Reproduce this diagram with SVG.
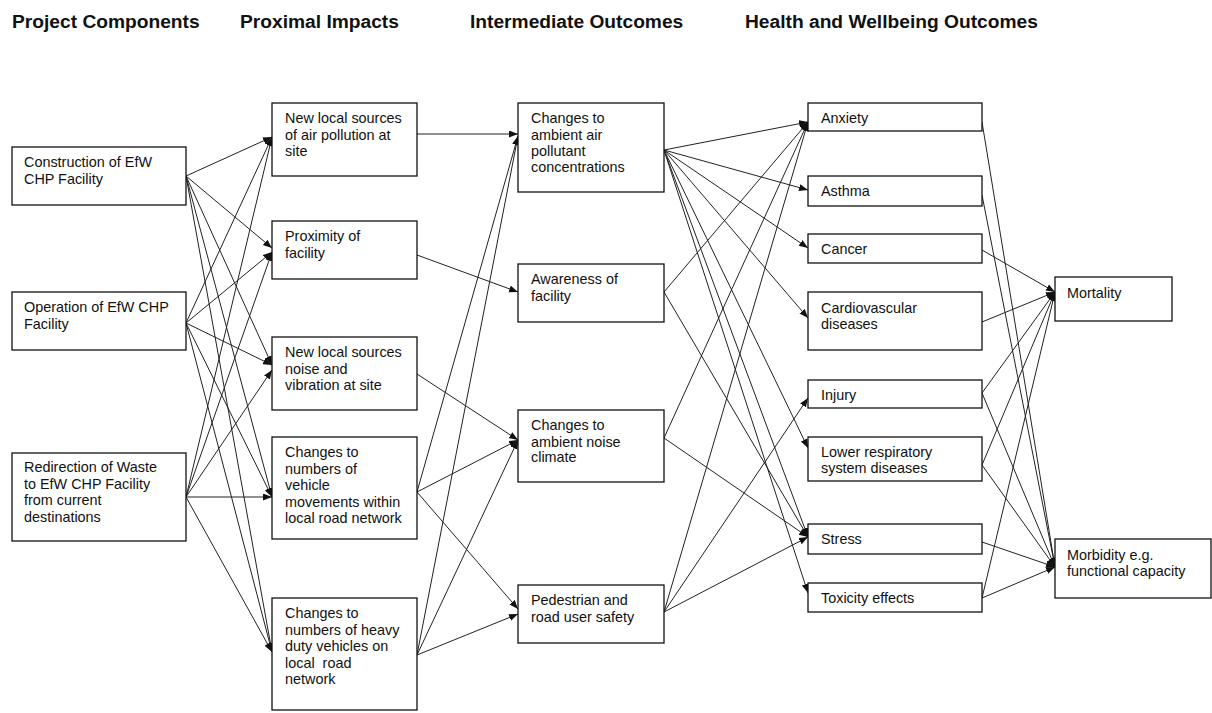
<svg xmlns="http://www.w3.org/2000/svg" width="1212" height="713" viewBox="0 0 1212 713">
<defs>
<marker id="ah" markerUnits="userSpaceOnUse" markerWidth="10" markerHeight="8" refX="9" refY="3.5" orient="auto">
<path d="M0,0 L9,3.5 L0,7 z" fill="#111"/>
</marker>
<style>
.box{fill:#fff;stroke:#111;stroke-width:1.3}
.t{font-family:"Liberation Sans",Arial,sans-serif;font-size:14.4px;fill:#111}
.h{font-family:"Liberation Sans",Arial,sans-serif;font-size:19.2px;font-weight:bold;fill:#111}
.c line{stroke:#222;stroke-width:1;marker-end:url(#ah)}
</style>
</defs>
<rect width="1212" height="713" fill="#fff"/>
<g id="headers">
<text class="h" x="12" y="28">Project Components</text>
<text class="h" x="240" y="28">Proximal Impacts</text>
<text class="h" x="470" y="28">Intermediate Outcomes</text>
<text class="h" x="745" y="28">Health and Wellbeing Outcomes</text>
</g>
<g id="connectors" class="c">
<!-- col1 -> col2 -->
<line x1="186" y1="176" x2="272" y2="137"/>
<line x1="186" y1="176" x2="272" y2="248"/>
<line x1="186" y1="176" x2="272" y2="365"/>
<line x1="186" y1="176" x2="272" y2="497"/>
<line x1="186" y1="176" x2="272" y2="652"/>
<line x1="186" y1="323" x2="272" y2="137"/>
<line x1="186" y1="323" x2="272" y2="252"/>
<line x1="186" y1="323" x2="272" y2="365"/>
<line x1="186" y1="323" x2="272" y2="497"/>
<line x1="186" y1="323" x2="272" y2="652"/>
<line x1="186" y1="497" x2="272" y2="137"/>
<line x1="186" y1="497" x2="272" y2="252"/>
<line x1="186" y1="497" x2="272" y2="370"/>
<line x1="186" y1="497" x2="272" y2="497"/>
<line x1="186" y1="497" x2="272" y2="652"/>
<!-- col2 -> col3 -->
<line x1="417" y1="134" x2="518" y2="134"/>
<line x1="417" y1="255" x2="518" y2="292"/>
<line x1="417" y1="374" x2="518" y2="440"/>
<line x1="417" y1="492" x2="518" y2="136"/>
<line x1="417" y1="492" x2="518" y2="440"/>
<line x1="417" y1="492" x2="518" y2="609"/>
<line x1="417" y1="655" x2="518" y2="136"/>
<line x1="417" y1="655" x2="518" y2="440"/>
<line x1="417" y1="655" x2="518" y2="614"/>
<!-- col3 -> col4 -->
<line x1="664" y1="150" x2="808" y2="122"/>
<line x1="664" y1="150" x2="808" y2="190"/>
<line x1="664" y1="150" x2="808" y2="248"/>
<line x1="664" y1="150" x2="808" y2="318"/>
<line x1="664" y1="150" x2="808" y2="448"/>
<line x1="664" y1="150" x2="808" y2="537"/>
<line x1="664" y1="150" x2="808" y2="593"/>
<line x1="664" y1="292" x2="808" y2="122"/>
<line x1="664" y1="292" x2="808" y2="537"/>
<line x1="664" y1="438" x2="808" y2="122"/>
<line x1="664" y1="438" x2="808" y2="537"/>
<line x1="664" y1="612" x2="808" y2="122"/>
<line x1="664" y1="612" x2="808" y2="398"/>
<line x1="664" y1="612" x2="808" y2="537"/>
<!-- col4 -> col5 -->
<line x1="982" y1="122" x2="1055" y2="567"/>
<line x1="982" y1="195" x2="1055" y2="567"/>
<line x1="982" y1="250" x2="1055" y2="292"/>
<line x1="982" y1="322" x2="1055" y2="292"/>
<line x1="982" y1="393" x2="1055" y2="292"/>
<line x1="982" y1="393" x2="1055" y2="567"/>
<line x1="982" y1="465" x2="1055" y2="292"/>
<line x1="982" y1="465" x2="1055" y2="567"/>
<line x1="982" y1="542" x2="1055" y2="567"/>
<line x1="982" y1="598" x2="1055" y2="292"/>
<line x1="982" y1="598" x2="1055" y2="567"/>
</g>
<g id="construction"><rect class="box" x="12" y="147" width="174" height="58"/><text class="t" x="24" y="167">Construction of EfW</text><text class="t" x="24" y="183.5">CHP Facility</text></g>
<g id="operation"><rect class="box" x="12" y="292" width="174" height="58"/><text class="t" x="24" y="312">Operation of EfW CHP</text><text class="t" x="24" y="328.5">Facility</text></g>
<g id="redirection"><rect class="box" x="12" y="453" width="174" height="88"/><text class="t" x="24" y="472">Redirection of Waste</text><text class="t" x="24" y="488.5">to EfW CHP Facility</text><text class="t" x="24" y="505">from current</text><text class="t" x="24" y="521.5">destinations</text></g>
<g id="air-sources"><rect class="box" x="272" y="103" width="145" height="73"/><text class="t" x="285" y="123">New local sources</text><text class="t" x="285" y="139.5">of air pollution at</text><text class="t" x="285" y="156">site</text></g>
<g id="proximity"><rect class="box" x="272" y="221" width="145" height="58"/><text class="t" x="285" y="241">Proximity of</text><text class="t" x="285" y="257.5">facility</text></g>
<g id="noise-sources"><rect class="box" x="272" y="337" width="145" height="73"/><text class="t" x="285" y="357">New local sources</text><text class="t" x="285" y="373.5">noise and</text><text class="t" x="285" y="390">vibration at site</text></g>
<g id="vehicle-movements"><rect class="box" x="272" y="437" width="145" height="102"/><text class="t" x="285" y="457">Changes to</text><text class="t" x="285" y="473.5">numbers of</text><text class="t" x="285" y="490">vehicle</text><text class="t" x="285" y="506.5">movements within</text><text class="t" x="285" y="523">local road network</text></g>
<g id="heavy-vehicles"><rect class="box" x="272" y="598" width="145" height="112"/><text class="t" x="285" y="618">Changes to</text><text class="t" x="285" y="634.5">numbers of heavy</text><text class="t" x="285" y="651">duty vehicles on</text><text class="t" x="285" y="667.5" xml:space="preserve">local  road</text><text class="t" x="285" y="684">network</text></g>
<g id="air-concentrations"><rect class="box" x="518" y="103" width="146" height="89"/><text class="t" x="531" y="123">Changes to</text><text class="t" x="531" y="139.5">ambient air</text><text class="t" x="531" y="156">pollutant</text><text class="t" x="531" y="172">concentrations</text></g>
<g id="awareness"><rect class="box" x="518" y="264" width="146" height="58"/><text class="t" x="531" y="284">Awareness of</text><text class="t" x="531" y="300.5">facility</text></g>
<g id="noise-climate"><rect class="box" x="518" y="410" width="146" height="72"/><text class="t" x="531" y="430">Changes to</text><text class="t" x="531" y="446.5">ambient noise</text><text class="t" x="531" y="462">climate</text></g>
<g id="pedestrian"><rect class="box" x="518" y="585" width="146" height="58"/><text class="t" x="531" y="605">Pedestrian and</text><text class="t" x="531" y="621.5">road user safety</text></g>
<g id="anxiety"><rect class="box" x="808" y="103" width="174" height="28"/><text class="t" x="821" y="123">Anxiety</text></g>
<g id="asthma"><rect class="box" x="808" y="176" width="174" height="30"/><text class="t" x="821" y="195.5">Asthma</text></g>
<g id="cancer"><rect class="box" x="808" y="234" width="174" height="29"/><text class="t" x="821" y="254">Cancer</text></g>
<g id="cardiovascular"><rect class="box" x="808" y="292" width="174" height="58"/><text class="t" x="821" y="312.5">Cardiovascular</text><text class="t" x="821" y="328.5">diseases</text></g>
<g id="injury"><rect class="box" x="808" y="380" width="174" height="28"/><text class="t" x="821" y="400">Injury</text></g>
<g id="lower-respiratory"><rect class="box" x="808" y="437" width="174" height="44"/><text class="t" x="821" y="456.5">Lower respiratory</text><text class="t" x="821" y="472.5">system diseases</text></g>
<g id="stress"><rect class="box" x="808" y="524" width="174" height="30"/><text class="t" x="821" y="544">Stress</text></g>
<g id="toxicity"><rect class="box" x="808" y="583" width="174" height="29"/><text class="t" x="821" y="603">Toxicity effects</text></g>
<g id="mortality"><rect class="box" x="1055" y="277" width="117" height="44"/><text class="t" x="1067" y="298">Mortality</text></g>
<g id="morbidity"><rect class="box" x="1055" y="539" width="156" height="59"/><text class="t" x="1067" y="560">Morbidity e.g.</text><text class="t" x="1067" y="576">functional capacity</text></g>
</svg>
